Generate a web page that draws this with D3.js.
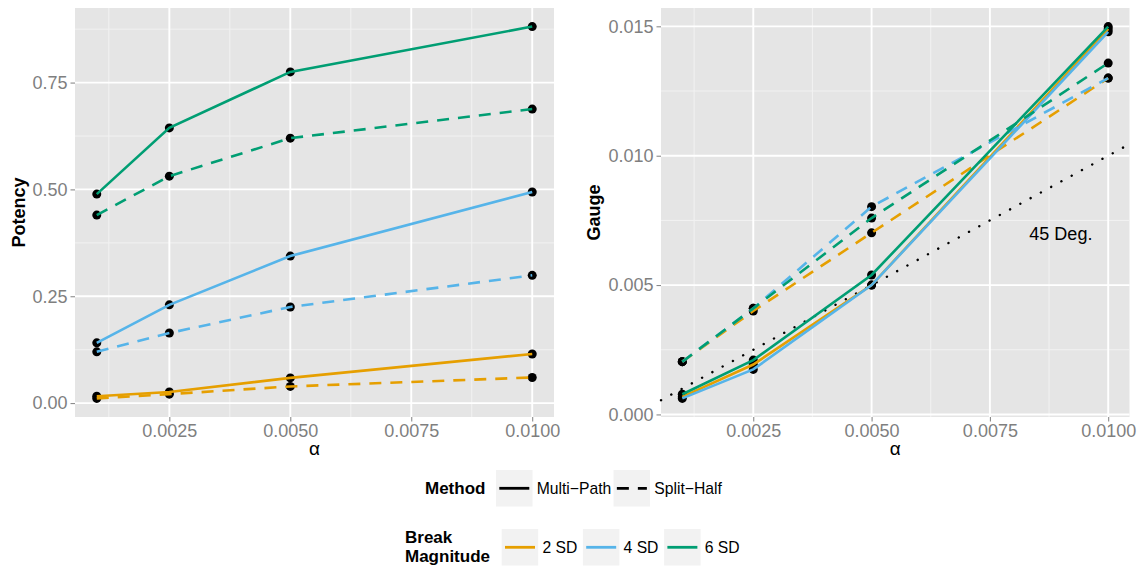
<!DOCTYPE html>
<html>
<head>
<meta charset="utf-8">
<script src="https://cdn.jsdelivr.net/npm/d3@7"></script>
<style>
  body { margin: 0; background: #fff; }
  svg text { font-family: "Liberation Sans", Arial, Helvetica, sans-serif; }
</style>
</head>
<body>
<svg id="chart" width="1143" height="567"></svg>
<script>
// alpha levels on the x axis
var alphas = [0.001, 0.0025, 0.005, 0.01];
var xTicks = [0.0025, 0.005, 0.0075, 0.01];

var methods = ["Multi\u2212Path", "Split\u2212Half"];
var magnitudes = ["2 SD", "4 SD", "6 SD"];
var magColors = ["#E69F00", "#56B4E9", "#009E73"];

// Potency (left panel)
var potency2Multi = [0.016, 0.026, 0.059, 0.115];
var potency2Split = [0.011, 0.021, 0.039, 0.060];
var potency4Multi = [0.141, 0.230, 0.344, 0.494];
var potency4Split = [0.120, 0.164, 0.225, 0.299];
var potency6Multi = [0.489, 0.644, 0.775, 0.881];
var potency6Split = [0.440, 0.531, 0.620, 0.688];
var potencyTicks = [0, 0.25, 0.5, 0.75];

// Gauge (right panel)
var gauge2Multi = [0.00068, 0.00193, 0.0050, 0.0149];
var gauge2Split = [0.00204, 0.0040, 0.00702, 0.0130];
var gauge4Multi = [0.00062, 0.00174, 0.0050, 0.01479];
var gauge4Split = [0.00204, 0.0041, 0.00803, 0.0130];
var gauge6Multi = [0.00078, 0.0021, 0.00539, 0.01499];
var gauge6Split = [0.00204, 0.0041, 0.00759, 0.01358];
var gaugeTicks = [0, 0.005, 0.01, 0.015];

var potencySeries = [
  { mag: 0, method: 0, values: potency2Multi },
  { mag: 0, method: 1, values: potency2Split },
  { mag: 1, method: 0, values: potency4Multi },
  { mag: 1, method: 1, values: potency4Split },
  { mag: 2, method: 0, values: potency6Multi },
  { mag: 2, method: 1, values: potency6Split }
];
var gaugeSeries = [
  { mag: 0, method: 0, values: gauge2Multi },
  { mag: 0, method: 1, values: gauge2Split },
  { mag: 1, method: 0, values: gauge4Multi },
  { mag: 1, method: 1, values: gauge4Split },
  { mag: 2, method: 0, values: gauge6Multi },
  { mag: 2, method: 1, values: gauge6Split }
];

var svg = d3.select("#chart");
var dashes = [null, "12,9"];

function expand(ext) {
  var pad = (ext[1] - ext[0]) * 0.05;
  return [ext[0] - pad, ext[1] + pad];
}

function panel(opts) {
  var g = svg.append("g");
  var x = d3.scaleLinear().domain(expand(d3.extent(alphas))).range([opts.left, opts.right]);
  var allY = [].concat.apply([], opts.series.map(function(s) { return s.values; }));
  var y = d3.scaleLinear().domain(expand(d3.extent(allY))).range([opts.bottom, opts.top]);

  g.append("rect")
    .attr("x", opts.left).attr("y", opts.top)
    .attr("width", opts.right - opts.left).attr("height", opts.bottom - opts.top)
    .attr("fill", "#e5e5e5");

  // minor grid, halfway between major breaks
  function minors(ticks, dom) {
    var step = ticks[1] - ticks[0], out = [];
    for (var v = ticks[0] - step / 2; v <= dom[1]; v += step) {
      if (v >= dom[0]) out.push(v);
    }
    return out;
  }
  var grid = g.append("g");
  grid.selectAll(".mx").data(minors(xTicks, x.domain())).enter().append("line")
    .attr("x1", x).attr("x2", x).attr("y1", opts.top).attr("y2", opts.bottom)
    .attr("stroke", "#f2f2f2").attr("stroke-width", 1);
  grid.selectAll(".my").data(minors(opts.yTicks, y.domain())).enter().append("line")
    .attr("y1", y).attr("y2", y).attr("x1", opts.left).attr("x2", opts.right)
    .attr("stroke", "#f2f2f2").attr("stroke-width", 1);
  grid.selectAll(".gx").data(xTicks).enter().append("line")
    .attr("x1", x).attr("x2", x).attr("y1", opts.top).attr("y2", opts.bottom)
    .attr("stroke", "#fff").attr("stroke-width", 1.9);
  grid.selectAll(".gy").data(opts.yTicks).enter().append("line")
    .attr("y1", y).attr("y2", y).attr("x1", opts.left).attr("x2", opts.right)
    .attr("stroke", "#fff").attr("stroke-width", 1.9);

  // axes
  var xAxis = d3.axisBottom(x).tickValues(xTicks).tickSize(4.5).tickPadding(3)
    .tickFormat(d3.format(".4f"));
  var gx = g.append("g").attr("transform", "translate(0," + opts.bottom + ")").call(xAxis);
  var yAxis = d3.axisLeft(y).tickValues(opts.yTicks).tickSize(4.5).tickPadding(3)
    .tickFormat(opts.yFormat);
  var gy = g.append("g").attr("transform", "translate(" + opts.left + ",0)").call(yAxis);
  [gx, gy].forEach(function(a) {
    a.select(".domain").remove();
    a.selectAll(".tick line").attr("stroke", "#7f7f7f").attr("stroke-width", 1);
    a.selectAll(".tick text").attr("fill", "#7f7f7f").attr("font-size", 18)
      .style("font-family", "'Liberation Sans', Arial, sans-serif");
  });
  gx.selectAll(".tick text").attr("dy", "0.72em");

  // points under lines
  var pts = [];
  opts.series.forEach(function(s) {
    s.values.forEach(function(v, i) { pts.push([alphas[i], v]); });
  });
  g.selectAll(".pt").data(pts).enter().append("circle")
    .attr("cx", function(d) { return x(d[0]); })
    .attr("cy", function(d) { return y(d[1]); })
    .attr("r", 4.5).attr("fill", "#000");

  if (opts.abline) {
    var xd = x.domain();
    g.append("line")
      .attr("x1", x(xd[0])).attr("y1", y(xd[0]))
      .attr("x2", x(xd[1])).attr("y2", y(xd[1]))
      .attr("stroke", "#000").attr("stroke-width", 2.4)
      .attr("stroke-linecap", "round")
      .attr("stroke-dasharray", "0.1,11.6");
    g.append("text")
      .attr("x", x(0.009)).attr("y", y(0.007)).attr("dy", "0.35em")
      .attr("text-anchor", "middle").attr("font-size", 18).attr("fill", "#000")
      .text("45 Deg.");
  }

  var line = d3.line()
    .x(function(d, i) { return x(alphas[i]); })
    .y(function(d) { return y(d); });
  g.selectAll(".ln").data(opts.series).enter().append("path")
    .attr("d", function(s) { return line(s.values); })
    .attr("fill", "none")
    .attr("stroke", function(s) { return magColors[s.mag]; })
    .attr("stroke-width", 2.6)
    .attr("stroke-dasharray", function(s) { return dashes[s.method]; });

  // titles
  g.append("text")
    .attr("transform", "translate(" + opts.titleX + "," + ((opts.top + opts.bottom) / 2) + ") rotate(-90)")
    .attr("text-anchor", "middle").attr("font-size", 18).attr("font-weight", "bold")
    .text(opts.title);
  g.append("text")
    .attr("x", (opts.left + opts.right) / 2).attr("y", 455)
    .attr("text-anchor", "middle").attr("font-size", 19)
    .text("\u03b1");
}

panel({
  left: 75, right: 554, top: 8, bottom: 417,
  series: potencySeries, yTicks: potencyTicks, yFormat: d3.format(".2f"),
  title: "Potency", titleX: 25
});
panel({
  left: 661, right: 1129.5, top: 8, bottom: 417,
  series: gaugeSeries, yTicks: gaugeTicks, yFormat: d3.format(".3f"),
  title: "Gauge", titleX: 600, abline: true
});

// legends
function legend(opts) {
  var g = svg.append("g");
  g.selectAll(".t").data(opts.title).enter().append("text")
    .attr("x", opts.titleX).attr("y", function(d, i) { return opts.titleY + i * 18.4; })
    .attr("font-size", 17).attr("font-weight", "bold").text(function(d) { return d; });
  var bx = opts.boxX;
  opts.labels.forEach(function(lab, i) {
    g.append("rect").attr("x", bx).attr("y", opts.boxY)
      .attr("width", 36.5).attr("height", 36.5).attr("fill", "#f2f2f2");
    g.append("line")
      .attr("x1", bx + 3.3).attr("x2", bx + 33.3)
      .attr("y1", opts.boxY + 18.3).attr("y2", opts.boxY + 18.3)
      .attr("stroke", opts.color(i)).attr("stroke-width", 2.8)
      .attr("stroke-dasharray", opts.dash(i));
    var t = g.append("text").attr("x", bx + 40.7).attr("y", opts.boxY + 24.2)
      .attr("font-size", 15.7).text(lab);
    bx = bx + 40.7 + t.node().getComputedTextLength() + opts.gap;
  });
}

legend({
  title: ["Method"], titleX: 425, titleY: 494.3,
  labels: methods, boxX: 496, boxY: 470, gap: 2.3,
  color: function() { return "#000"; },
  dash: function(i) { return dashes[i]; }
});
legend({
  title: ["Break", "Magnitude"], titleX: 405, titleY: 543.3,
  labels: magnitudes, boxX: 501.7, boxY: 529, gap: 5.6,
  color: function(i) { return magColors[i]; },
  dash: function() { return null; }
});
</script>
</body>
</html>
